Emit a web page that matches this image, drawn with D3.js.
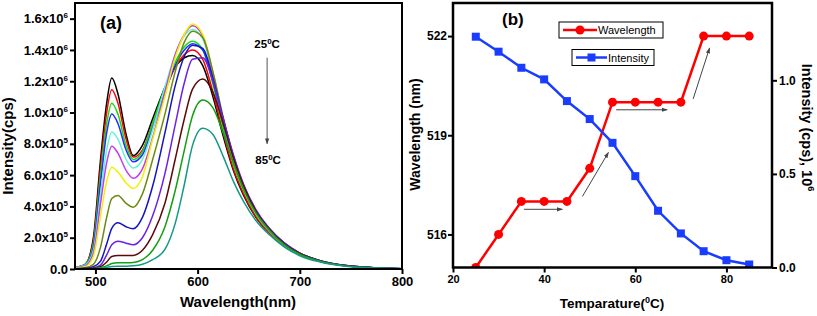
<!DOCTYPE html>
<html>
<head>
<meta charset="utf-8">
<script src="https://cdn.jsdelivr.net/npm/d3@7"></script>
<style>
body{margin:0;background:#fff;}
svg{display:block;font-family:"Liberation Sans",Arial,sans-serif;}
.tick text{font-weight:bold;fill:#000;}
.tick line{stroke:#000;stroke-width:2px;}
</style>
</head>
<body>
<svg id="fig" width="817" height="316"></svg>
<script>
// ---- panel (a): emission spectra, intensity in 1e5 cps ----
var wl = [480, 490, 498, 505, 511, 516, 522, 530, 537, 546, 556, 568, 578, 587, 595, 605, 615, 625, 635, 645, 657, 670, 685, 700, 720, 745, 775, 800];
var temps = [25, 30, 35, 40, 45, 50, 55, 60, 65, 70, 75, 80, 85];
var colours = ["#000000", "#ff0000", "#11dd11", "#1f2fff", "#66f2d8", "#c23cf0", "#f2f000", "#6b8a12", "#1414c0", "#6a22e6", "#5c0a0a", "#12a012", "#139a84"];

var s25 = [0.1, 0.3, 2.0, 7.0, 10.6, 12.2, 11.2, 8.6, 7.25, 7.9, 9.6, 11.6, 12.9, 13.5, 13.65, 13.0, 11.0, 8.5, 6.3, 4.7, 3.3, 2.3, 1.45, 0.9, 0.48, 0.2, 0.07, 0.02];
var s30 = [0.1, 0.3, 1.8, 6.5, 10.0, 11.45, 10.6, 8.3, 7.15, 7.6, 9.3, 11.4, 12.9, 13.7, 14.0, 13.4, 11.3, 8.7, 6.4, 4.8, 3.35, 2.3, 1.45, 0.9, 0.48, 0.2, 0.07, 0.02];
var s35 = [0.1, 0.3, 1.6, 6.0, 9.3, 10.6, 9.9, 7.9, 7.0, 7.5, 9.3, 11.6, 13.2, 14.2, 14.55, 14.0, 11.8, 9.0, 6.7, 5.0, 3.5, 2.4, 1.5, 0.95, 0.5, 0.21, 0.07, 0.02];
var s40 = [0.1, 0.25, 1.4, 5.5, 8.7, 9.9, 9.3, 7.6, 6.85, 7.3, 9.0, 11.3, 13.0, 14.0, 14.4, 14.0, 12.0, 9.3, 7.0, 5.2, 3.65, 2.5, 1.6, 1.0, 0.52, 0.22, 0.08, 0.02];
var s45 = [0.1, 0.25, 1.2, 4.8, 7.6, 8.76, 8.3, 7.0, 6.45, 7.0, 8.9, 11.6, 13.7, 14.9, 15.3, 14.7, 12.3, 9.4, 6.9, 5.1, 3.55, 2.45, 1.55, 0.95, 0.5, 0.21, 0.07, 0.02];
var s50 = [0.08, 0.2, 1.0, 4.2, 6.8, 7.85, 7.4, 6.3, 5.8, 6.4, 8.4, 11.3, 13.7, 15.0, 15.55, 14.9, 12.5, 9.5, 7.0, 5.15, 3.6, 2.45, 1.55, 0.95, 0.5, 0.21, 0.07, 0.02];
var s55 = [0.06, 0.15, 0.8, 3.4, 5.6, 6.5, 6.2, 5.5, 5.15, 5.9, 8.3, 11.0, 13.5, 15.0, 15.65, 15.0, 12.6, 9.6, 7.1, 5.2, 3.65, 2.5, 1.6, 0.97, 0.5, 0.21, 0.07, 0.02];
var s60 = [0.03, 0.08, 0.3, 1.4, 3.3, 4.5, 4.7, 4.2, 3.95, 4.8, 7.0, 9.9, 12.6, 14.5, 15.2, 14.8, 12.6, 9.7, 7.2, 5.3, 3.7, 2.55, 1.6, 1.0, 0.52, 0.22, 0.08, 0.02];
var s65 = [0.02, 0.05, 0.15, 0.5, 1.6, 2.6, 2.95, 2.7, 2.58, 3.3, 5.3, 8.7, 11.7, 13.6, 14.3, 14.1, 12.2, 9.6, 7.2, 5.35, 3.75, 2.6, 1.65, 1.02, 0.53, 0.22, 0.08, 0.02];
var s70 = [0.01, 0.03, 0.08, 0.25, 0.9, 1.55, 1.78, 1.65, 1.55, 2.0, 3.4, 6.1, 9.2, 11.9, 13.4, 13.5, 12.0, 9.6, 7.3, 5.4, 3.8, 2.6, 1.65, 1.02, 0.53, 0.22, 0.08, 0.02];
var s75 = [0.01, 0.02, 0.05, 0.15, 0.45, 0.8, 0.87, 0.86, 0.87, 1.2, 2.2, 4.2, 7.0, 9.6, 11.5, 12.15, 11.3, 9.3, 7.1, 5.3, 3.7, 2.55, 1.6, 1.0, 0.52, 0.21, 0.07, 0.02];
var s80 = [0.0, 0.01, 0.03, 0.08, 0.2, 0.35, 0.4, 0.4, 0.42, 0.6, 1.2, 2.7, 5.0, 7.6, 9.8, 10.8, 10.3, 8.7, 6.8, 5.1, 3.6, 2.5, 1.55, 0.95, 0.5, 0.2, 0.07, 0.02];
var s85 = [0.0, 0.0, 0.02, 0.05, 0.1, 0.16, 0.18, 0.18, 0.2, 0.3, 0.6, 1.25, 2.9, 5.4, 7.9, 9.0, 8.6, 7.2, 5.6, 4.3, 3.1, 2.2, 1.4, 0.85, 0.45, 0.18, 0.06, 0.02];
var spectra = [s25, s30, s35, s40, s45, s50, s55, s60, s65, s70, s75, s80, s85];

var aXTicks = [500, 600, 700, 800];
var aYTicks = [0, 2e5, 4e5, 6e5, 8e5, 1e6, 1.2e6, 1.4e6, 1.6e6];
var aYMant = ["0.0", "2.0x10", "4.0x10", "6.0x10", "8.0x10", "1.0x10", "1.2x10", "1.4x10", "1.6x10"];
var aYExp = ["", "5", "5", "5", "5", "6", "6", "6", "6"];

// ---- panel (b): peak wavelength and intensity vs temperature ----
var tempB = [25, 30, 35, 40, 45, 50, 55, 60, 65, 70, 75, 80, 85];
var peakWl = [515, 516, 517, 517, 517, 518, 520, 520, 520, 520, 522, 522, 522];
var peakInt = [1.233, 1.153, 1.067, 1.005, 0.889, 0.793, 0.666, 0.488, 0.303, 0.182, 0.087, 0.039, 0.016];
var bXTicks = [20, 40, 60, 80];
var bWTicks = [516, 519, 522];
var bITicks = [0, 0.5, 1.0];

var svg = d3.select("#fig");
var defs = svg.append("defs");
defs.append("marker").attr("id", "head")
    .attr("viewBox", "0 0 10 10").attr("refX", 9).attr("refY", 5)
    .attr("markerWidth", 6).attr("markerHeight", 6).attr("orient", "auto")
  .append("path").attr("d", "M0,1.5L10,5L0,8.5z").attr("fill", "#444");

function rich(sel, parts, supSize, rise) {
    var up = false;
    parts.forEach(function(p) {
        var t = sel.append("tspan").text(p[0]);
        if (p[1]) { t.attr("font-size", supSize).attr("dy", -rise); up = true; }
        else if (up) { t.attr("dy", rise); up = false; }
    });
}

// ================= panel (a) =================
var A = {l: 75, t: 3, r: 402, b: 269};
var xA = d3.scaleLinear().domain([480, 800]).range([A.l, A.r]);
var yA = d3.scaleLinear().domain([0, 1.7e6]).range([A.b, A.t]);

defs.append("clipPath").attr("id", "clipA").append("rect")
    .attr("x", A.l).attr("y", A.t).attr("width", A.r - A.l).attr("height", A.b - A.t);

var lineA = d3.line()
    .x(function(d, i) { return xA(wl[i]); })
    .y(function(d) { return yA(d * 1e5); })
    .curve(d3.curveMonotoneX);

svg.append("g").attr("clip-path", "url(#clipA)")
  .selectAll("path").data(spectra).enter().append("path")
    .attr("d", lineA)
    .attr("fill", "none")
    .attr("stroke", function(d, i) { return colours[i]; })
    .attr("stroke-width", 1.5);

var axA = svg.append("g").attr("transform", "translate(0," + A.b + ")")
    .call(d3.axisBottom(xA).tickValues(aXTicks).tickSize(5).tickSizeOuter(0).tickPadding(3));
axA.select(".domain").remove();
axA.selectAll("text").attr("font-size", 13);

var ayA = svg.append("g").attr("transform", "translate(" + A.l + ",0)")
    .call(d3.axisLeft(yA).tickValues(aYTicks).tickSize(5).tickSizeOuter(0).tickPadding(2));
ayA.select(".domain").remove();
ayA.selectAll("text").attr("font-size", 13).text(null)
    .each(function(d, i) {
        rich(d3.select(this), [[aYMant[i], false], [aYExp[i], true]], 8, 5);
    });

svg.append("rect").attr("x", A.l).attr("y", A.t).attr("width", A.r - A.l).attr("height", A.b - A.t)
    .attr("fill", "none").attr("stroke", "#000").attr("stroke-width", 2);

svg.append("text").attr("x", 100).attr("y", 28.5)
    .attr("font-size", 18).attr("font-weight", "bold").text("(a)");

// temperature arrow
svg.append("line")
    .attr("x1", xA(668)).attr("x2", xA(668))
    .attr("y1", yA(13.5e5)).attr("y2", yA(8.0e5))
    .attr("stroke", "#555").attr("stroke-width", 1).attr("marker-end", "url(#head)");
var t25 = svg.append("text").attr("x", xA(668)).attr("y", 48).attr("text-anchor", "middle")
    .attr("font-size", 11.5).attr("font-weight", "bold");
rich(t25, [["25", false], ["0", true], ["C", false]], 8, 4);
var t85 = svg.append("text").attr("x", xA(669)).attr("y", 164).attr("text-anchor", "middle")
    .attr("font-size", 11.5).attr("font-weight", "bold");
rich(t85, [["85", false], ["0", true], ["C", false]], 8, 4);

svg.append("text").attr("x", 238).attr("y", 307).attr("text-anchor", "middle")
    .attr("font-size", 15).attr("font-weight", "bold").text("Wavelength(nm)");
svg.append("text").attr("transform", "translate(13,146) rotate(-90)").attr("text-anchor", "middle")
    .attr("font-size", 15).attr("font-weight", "bold").text("Intensity(cps)");

// ================= panel (b) =================
var B = {l: 453, t: 3, r: 772, b: 267.5};
var xB = d3.scaleLinear().domain([20, 90]).range([B.l, B.r]);
var yW = d3.scaleLinear().domain([515, 523]).range([B.b, B.t]);
var yI = d3.scaleLinear().domain([0, 1.413]).range([B.b, B.t]);

defs.append("clipPath").attr("id", "clipB").append("rect")
    .attr("x", B.l).attr("y", B.t).attr("width", B.r - B.l).attr("height", B.b - B.t);

var plotB = svg.append("g").attr("clip-path", "url(#clipB)");

// arrows
var arrowsB = [[35.6, 516.76, 44, 516.76], [48.4, 517.15, 54.1, 518.48], [55.8, 519.77, 67, 519.77], [72.7, 520.1, 76.3, 521.64]];
plotB.selectAll("line.arr").data(arrowsB).enter().append("line")
    .attr("x1", function(d) { return xB(d[0]); }).attr("y1", function(d) { return yW(d[1]); })
    .attr("x2", function(d) { return xB(d[2]); }).attr("y2", function(d) { return yW(d[3]); })
    .attr("stroke", "#444").attr("stroke-width", 1).attr("marker-end", "url(#head)");

var wlLine = d3.line().x(function(d, i) { return xB(tempB[i]); }).y(function(d) { return yW(d); });
var inLine = d3.line().x(function(d, i) { return xB(tempB[i]); }).y(function(d) { return yI(d); });

plotB.append("path").attr("d", wlLine(peakWl)).attr("fill", "none").attr("stroke", "#ff0000").attr("stroke-width", 2.5);
plotB.selectAll("circle").data(peakWl).enter().append("circle")
    .attr("cx", function(d, i) { return xB(tempB[i]); }).attr("cy", function(d) { return yW(d); })
    .attr("r", 4.5).attr("fill", "#ff0000");

plotB.append("path").attr("d", inLine(peakInt)).attr("fill", "none").attr("stroke", "#1a3cff").attr("stroke-width", 2.5);
plotB.selectAll("rect.sq").data(peakInt).enter().append("rect").attr("class", "sq")
    .attr("x", function(d, i) { return xB(tempB[i]) - 4; }).attr("y", function(d) { return yI(d) - 4; })
    .attr("width", 8).attr("height", 8).attr("fill", "#1a3cff");

var axB = svg.append("g").attr("transform", "translate(0," + B.b + ")")
    .call(d3.axisBottom(xB).tickValues(bXTicks).tickSize(5).tickSizeOuter(0).tickPadding(3));
axB.select(".domain").remove();
axB.selectAll("text").attr("font-size", 11);

var ayW = svg.append("g").attr("transform", "translate(" + B.l + ",0)")
    .call(d3.axisLeft(yW).tickValues(bWTicks).tickSize(5).tickSizeOuter(0).tickPadding(1));
ayW.select(".domain").remove();
ayW.selectAll("text").attr("font-size", 12);

var ayI = svg.append("g").attr("transform", "translate(" + B.r + ",0)")
    .call(d3.axisRight(yI).tickValues(bITicks).tickFormat(d3.format(".1f")).tickSize(5).tickSizeOuter(0).tickPadding(2));
ayI.select(".domain").remove();
ayI.selectAll("text").attr("font-size", 12);

svg.append("rect").attr("x", B.l).attr("y", B.t).attr("width", B.r - B.l).attr("height", B.b - B.t)
    .attr("fill", "none").attr("stroke", "#000").attr("stroke-width", 2.5);

svg.append("text").attr("x", 502).attr("y", 25)
    .attr("font-size", 17).attr("font-weight", "bold").text("(b)");

// legend
var lg = svg.append("g");
lg.append("rect").attr("x", 559).attr("y", 22).attr("width", 104).attr("height", 16)
    .attr("fill", "#fff").attr("stroke", "#000").attr("stroke-width", 1);
lg.append("line").attr("x1", 563).attr("x2", 597).attr("y1", 30).attr("y2", 30)
    .attr("stroke", "#ff0000").attr("stroke-width", 2.5);
lg.append("circle").attr("cx", 580).attr("cy", 30).attr("r", 4.5).attr("fill", "#ff0000");
lg.append("text").attr("x", 598).attr("y", 34).attr("font-size", 11).text("Wavelength");

lg.append("rect").attr("x", 572).attr("y", 49.5).attr("width", 82).attr("height", 16)
    .attr("fill", "#fff").attr("stroke", "#000").attr("stroke-width", 1);
lg.append("line").attr("x1", 576).attr("x2", 607).attr("y1", 57.5).attr("y2", 57.5)
    .attr("stroke", "#1a3cff").attr("stroke-width", 2.5);
lg.append("rect").attr("x", 587.5).attr("y", 53.5).attr("width", 8).attr("height", 8).attr("fill", "#1a3cff");
lg.append("text").attr("x", 608).attr("y", 61.5).attr("font-size", 11).text("Intensity");

var tx = svg.append("text").attr("x", 612).attr("y", 308).attr("text-anchor", "middle")
    .attr("font-size", 13.5).attr("font-weight", "bold");
rich(tx, [["Temparature(", false], ["0", true], ["C)", false]], 9, 5);

svg.append("text").attr("transform", "translate(420,134.5) rotate(-90)").attr("text-anchor", "middle")
    .attr("font-size", 14).attr("font-weight", "bold").text("Wavelength (nm)");

var tr = svg.append("text").attr("transform", "translate(802,127.5) rotate(90)").attr("text-anchor", "middle")
    .attr("font-size", 14.5).attr("font-weight", "bold");
rich(tr, [["Intensity (cps), 10", false], ["6", true]], 9, 6);
</script>
</body>
</html>
